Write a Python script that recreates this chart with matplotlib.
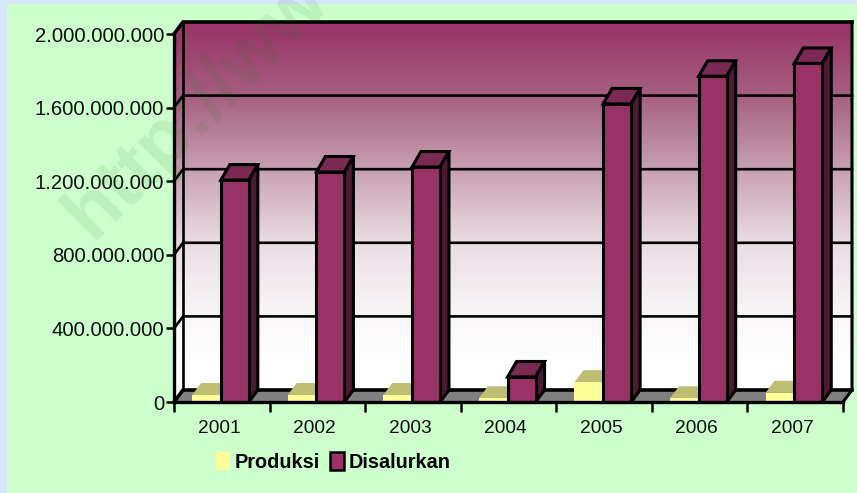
import numpy as np
import matplotlib
matplotlib.use("Agg")
import matplotlib.pyplot as plt
from matplotlib.colors import LinearSegmentedColormap
from matplotlib.patches import Patch, Polygon, Rectangle

plt.rcParams['font.family'] = ['Liberation Sans', 'DejaVu Sans']

years = ['2001', '2002', '2003', '2004', '2005', '2006', '2007']
produksi = [38e6, 38e6, 38e6, 20e6, 108e6, 20e6, 50e6]
disalurkan = [1.206e9, 1.25e9, 1.277e9, 0.136e9, 1.62e9, 1.77e9, 1.84e9]
y_ticks = [0, 400e6, 800e6, 1200e6, 1600e6, 2000e6]
y_labels = ['0', '400.000.000', '800.000.000', '1.200.000.000', '1.600.000.000', '2.000.000.000']

W, H = 857, 493
PURPLE = '#993366'
PURPLE_TOP = '#7a2952'
PURPLE_SIDE = '#4d1a33'
YELLOW = '#ffff99'
YELLOW_TOP = '#bfbf73'

fig = plt.figure(figsize=(W / 100, H / 100), dpi=100, facecolor='#d6e6fb')
fig.patches.append(Rectangle((7 / W, 0), 1, 1 - 4 / H, transform=fig.transFigure,
                             facecolor='#ccffcc', edgecolor='none', zorder=-1))

# front plane of the 3d box
ax = fig.add_axes([174 / W, (H - 402) / H, 669 / W, 368 / H])
ax.patch.set_visible(False)

dx = 9 / (669 / 7)
dy = 12 / 368 * 2e9
bar_dy = 15.5 / 368 * 2e9
bar_w = 0.293

# walls, gradient
cmap = LinearSegmentedColormap.from_list('wall', [
    (0.0, '#993366'), (0.2, '#a5607f'), (0.4, '#c7a0b2'),
    (0.6, '#e9dde3'), (0.8, '#f9f6f8'), (0.92, '#ffffff'), (1.0, '#ffffff')])
levels = np.linspace(0, 2e9, 33)
vals = np.array([[1 - (l + 0.5 * 2e9 / 32) / 2e9] for l in levels[:-1]])
ax.imshow(vals, origin='lower', extent=(dx, 7 + dx, dy, 2e9 + dy), aspect='auto', cmap=cmap,
          vmin=0, vmax=1, zorder=1, clip_on=False, interpolation='bilinear')
X2 = np.array([[0, dx]] * len(levels))
Y2 = np.column_stack([levels, levels + dy])
ax.pcolormesh(X2, Y2, vals, cmap=cmap, vmin=0, vmax=1, zorder=1, clip_on=False,
              edgecolors='face', linewidth=0.5)
ax.set_xlim(0, 7)
ax.set_ylim(0, 2e9)

# floor
ax.add_patch(Polygon([(0, 0), (7, 0), (7 + dx, dy), (dx, dy)], facecolor='#808080',
                     edgecolor='none', zorder=2, clip_on=False))

# grid lines and box frame
for t in y_ticks:
    lw = 2.6 if t in (0, 2e9) else 1.9
    ax.plot([0, dx, 7 + dx], [t, t + dy, t + dy], color='black', lw=lw, zorder=3,
            clip_on=False, solid_joinstyle='miter')
ax.plot([dx, dx], [dy, 2e9 + dy], color='black', lw=1.9, zorder=3, clip_on=False)
ax.plot([7 + dx, 7 + dx, 7], [2e9 + dy, dy, 0], color='black', lw=2.2, zorder=3, clip_on=False)


def draw_bars(x, values, face, top, side, edge, lw, z, depth):
    ax.bar(x, values, width=bar_w, align='edge', color=face, edgecolor=edge, linewidth=lw,
           zorder=z + 1, clip_on=False)
    for xi, v in zip(x, values):
        ax.add_patch(Polygon([(xi, v), (xi + bar_w, v), (xi + bar_w + dx, v + depth), (xi + dx, v + depth)],
                             facecolor=top, edgecolor=edge, lw=lw, zorder=z, clip_on=False))
        ax.add_patch(Polygon([(xi + bar_w, 0), (xi + bar_w + dx, dy), (xi + bar_w + dx, v + depth), (xi + bar_w, v)],
                             facecolor=side, edgecolor=edge, lw=lw, zorder=z, clip_on=False))


pos = np.arange(len(years))
draw_bars(pos + 0.19, produksi, YELLOW, YELLOW_TOP, YELLOW_TOP, 'none', 0, 4, dy)
draw_bars(pos + 0.49, disalurkan, PURPLE, PURPLE_TOP, PURPLE_SIDE, 'black', 2.2, 6, bar_dy)

# axes
for s in ['top', 'right']:
    ax.spines[s].set_visible(False)
for s in ['left', 'bottom']:
    ax.spines[s].set_linewidth(2.4)
    ax.spines[s].set_zorder(9)
ax.set_yticks(y_ticks)
ax.set_yticklabels(y_labels, fontsize=14.6, color='#111111')
ax.set_xticks(np.arange(8))
ax.set_xticklabels([])
ax.set_xticks(pos + 0.47, minor=True)
ax.set_xticklabels(years, minor=True, fontsize=13.8, color='#111111')
ax.tick_params(axis='x', which='major', length=7, width=1.8)
ax.tick_params(axis='x', which='minor', length=0, pad=13)
ax.tick_params(axis='y', length=6, width=1.8, pad=1)

# legend
handles = [Patch(facecolor=YELLOW, edgecolor='none', label='Produksi'),
           Patch(facecolor=PURPLE, edgecolor='black', linewidth=1.8, label='Disalurkan')]
fig.legend(handles=handles, loc='center', bbox_to_anchor=(333.5 / W, (H - 462) / H), ncols=2,
           frameon=False, prop={'size': 14.3, 'weight': 'bold'}, handlelength=0.7,
           handleheight=1.05, handletextpad=0.25, columnspacing=0.5)

# watermark
fig.text(92 / W, (H - 241) / H, 'http://www', fontsize=56, fontweight='bold', rotation=45,
         color='#1f7a1f', alpha=0.1, ha='left', va='baseline', zorder=20, rotation_mode='anchor')

fig.savefig('out.png', dpi=100, facecolor=fig.get_facecolor())
